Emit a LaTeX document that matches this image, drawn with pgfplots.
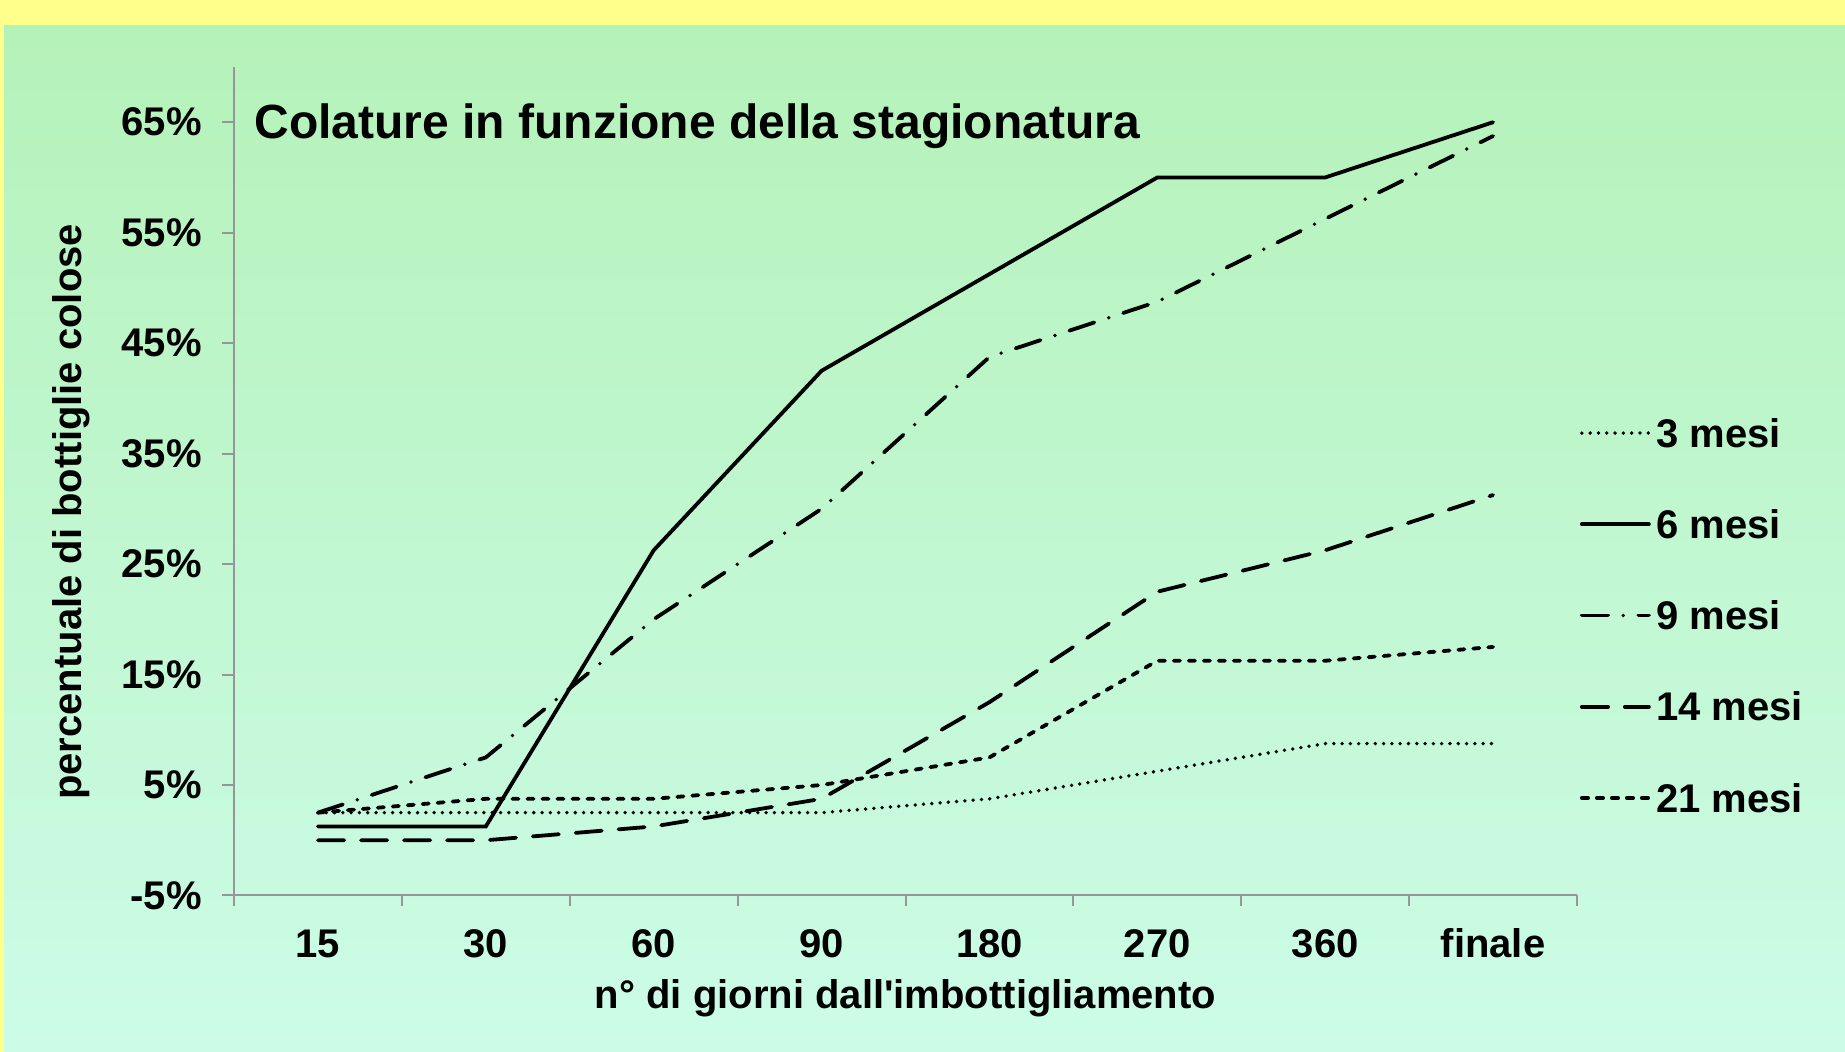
\documentclass[border=0pt]{standalone}
\usepackage{fontspec}
\setmainfont{Liberation Sans}
\usepackage{pgfplots}
\pgfplotsset{compat=1.18}
\definecolor{yellowbg}{RGB}{255,255,140}
\definecolor{greentop}{RGB}{181,242,185}
\definecolor{greenbot}{RGB}{204,252,232}
\definecolor{axisgray}{RGB}{150,150,150}
\newcommand{\lblfont}{\fontsize{20}{24}\selectfont\bfseries}
\begin{document}
\begin{tikzpicture}
\useasboundingbox (0,0) rectangle (922.5pt,526pt);
\fill[yellowbg] (0,0) rectangle (922.5pt,526pt);
\shade[top color=greentop, bottom color=greenbot] (2pt,0) rectangle (922.5pt,513pt);
\begin{axis}[
  at={(117pt,78.25pt)}, anchor=south west,
  scale only axis, width=671.5pt, height=414.25pt,
  xmin=0, xmax=8, ymin=-5, ymax=70,
  axis x line*=bottom, axis y line*=left,
  axis line style={draw=axisgray, line width=1pt},
  tick align=outside,
  major tick length=6pt, minor tick length=5.3pt,
  tick style={axisgray, line width=1pt},
  major x tick style={draw=none},
  minor x tick style={axisgray, line width=1pt},
  xtick={0.5,1.5,2.5,3.5,4.5,5.5,6.5,7.5},
  xticklabels={15,30,60,90,180,270,360,finale},
  minor xtick={0,1,2,3,4,5,6,7,8},
  ytick={-5,5,15,25,35,45,55,65},
  yticklabels={-5\%,5\%,15\%,25\%,35\%,45\%,55\%,65\%},
  ticklabel style={font=\lblfont},
  yticklabel style={anchor=east, inner sep=0pt, xshift=-10pt},
  xticklabel style={anchor=north, inner sep=0pt, text height=14.3pt, text depth=0pt, yshift=-10.6pt},
  xlabel={n° di giorni dall\textquotesingle imbottigliamento},
  ylabel={percentuale di bottiglie colose},
  label style={font=\lblfont},
  xlabel style={at={(axis description cs:0.5,-0.1237)}, anchor=center, inner sep=0pt},
  ylabel style={at={(axis description cs:-0.1214,0.463)}, anchor=center, inner sep=0pt},
  clip=false,
  legend style={at={(axis description cs:1.0022,0.338)}, anchor=west, draw=none, fill=none,
    inner sep=0pt, outer sep=0pt, row sep=31.3pt, column sep=2.8pt,
    nodes={inner sep=0pt, font=\lblfont, text height=14.3pt, text depth=0pt}},
  legend cell align=left,
  legend image code/.code={\draw[#1] (0pt,0pt) -- (33.5pt,0pt);},
  every axis plot/.append style={line width=1.9pt, line cap=round, black},
]
\addplot[dash pattern=on 0pt off 4.15pt] coordinates {(0.5,2.5) (1.5,2.5) (2.5,2.5) (3.5,2.5) (4.5,3.75) (5.5,6.25) (6.5,8.75) (7.5,8.75)};
\addlegendentry{3 mesi}
\addplot[solid] coordinates {(0.5,1.25) (1.5,1.25) (2.5,26.25) (3.5,42.5) (4.5,51.25) (5.5,60) (6.5,60) (7.5,65)};
\addlegendentry{6 mesi}
\addplot[dash pattern=on 13.1pt off 7.6pt on 0pt off 7.6pt] coordinates {(0.5,2.5) (1.5,7.5) (2.5,20) (3.5,30) (4.5,43.75) (5.5,48.75) (6.5,56.25) (7.5,63.75)};
\addlegendentry{9 mesi}
\addplot[dash pattern=on 13.1pt off 8.4pt] coordinates {(0.5,0) (1.5,0) (2.5,1.25) (3.5,3.75) (4.5,12.5) (5.5,22.5) (6.5,26.25) (7.5,31.25)};
\addlegendentry{14 mesi}
\addplot[dash pattern=on 3.1pt off 4.4pt] coordinates {(0.5,2.5) (1.5,3.75) (2.5,3.75) (3.5,5) (4.5,7.5) (5.5,16.25) (6.5,16.25) (7.5,17.5)};
\addlegendentry{21 mesi}
\node[anchor=base west, inner sep=0pt, font=\fontsize{24}{29}\selectfont\bfseries, xshift=10pt, yshift=-7.9pt] at (axis cs:0,65) {Colature in funzione della stagionatura};
\end{axis}
\end{tikzpicture}
\end{document}
